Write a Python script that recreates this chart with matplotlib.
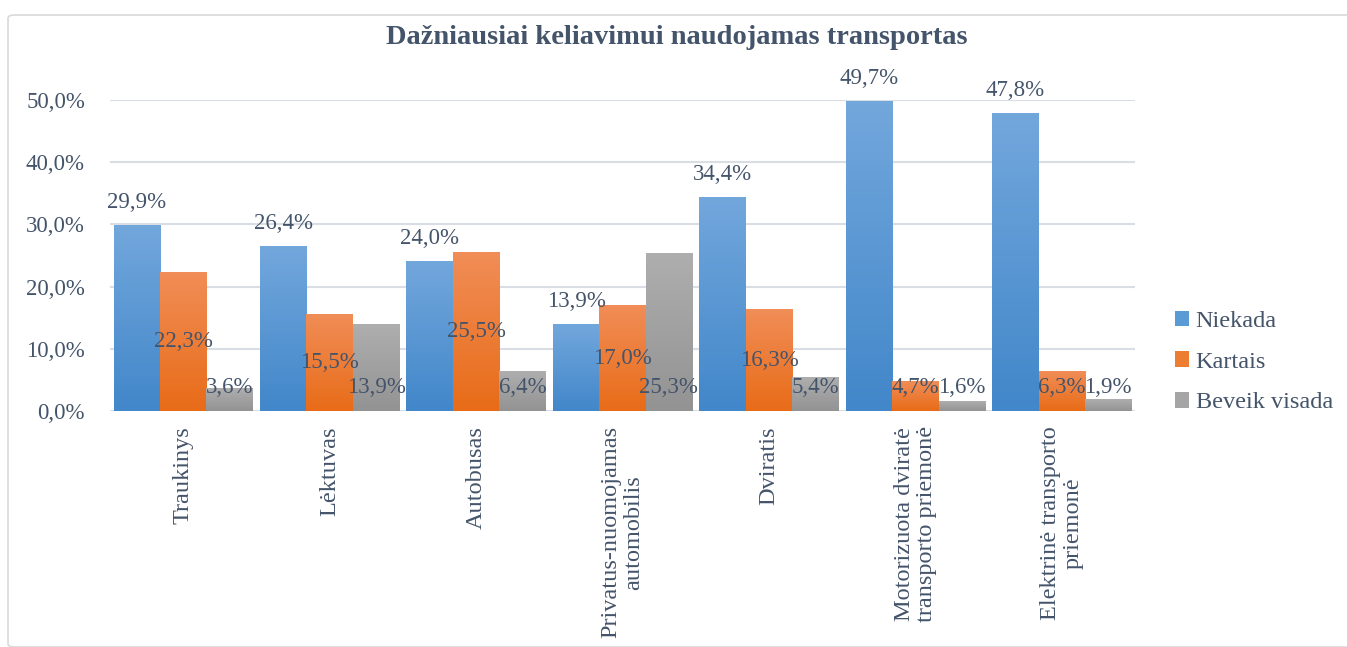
import numpy as np
import matplotlib
matplotlib.use('Agg')
import matplotlib.pyplot as plt
from matplotlib.colors import LinearSegmentedColormap
from matplotlib.patches import FancyBboxPatch

plt.rcParams['font.family'] = ['Liberation Serif', 'DejaVu Serif']

categories = ['Traukinys', 'Lėktuvas', 'Autobusas', 'Privatus-nuomojamas\nautomobilis',
              'Dviratis', 'Motorizuota dviratė\ntransporto priemonė', 'Elektrinė transporto\npriemonė']
niekada = [29.9, 26.4, 24.0, 13.9, 34.4, 49.7, 47.8]
kartais = [22.3, 15.5, 25.5, 17.0, 16.3, 4.7, 6.3]
beveik = [3.6, 13.9, 6.4, 25.3, 5.4, 1.6, 1.9]
series_names = ['Niekada', 'Kartais', 'Beveik visada']
yticks = [0, 10, 20, 30, 40, 50]

txt = '#44546A'
grads = [('#72A7DC', '#4287CA'), ('#F18D57', '#E86C18'), ('#AEAEAE', '#939393')]
solid = ['#5B9BD5', '#ED7D31', '#A5A5A5']

fig = plt.figure(figsize=(13.47, 6.47), dpi=100)
ax = fig.add_axes([110/1347, 1 - 411/647, 1025/1347, 311/647])

x = np.arange(len(categories))
w = 0.317
data = [niekada, kartais, beveik]

for i, (vals, name) in enumerate(zip(data, series_names)):
    bars = ax.bar(x + (i - 1) * w, vals, w, color=solid[i], label=name, zorder=2)
    cmap = LinearSegmentedColormap.from_list('g%d' % i, [grads[i][1], grads[i][0]])
    for b in bars:
        bx, bw, bh = b.get_x(), b.get_width(), b.get_height()
        ax.imshow(np.linspace(0, 1, 100).reshape(-1, 1), extent=[bx, bx + bw, 0, bh],
                  origin='lower', aspect='auto', cmap=cmap, zorder=3)
    for xi, v in zip(x, vals):
        xc = xi + (i - 1) * w
        lab = f'{v:.1f}%'.replace('.', ',')
        if i == 0:
            ax.annotate(lab, (xc, v), xytext=(0, 9), textcoords='offset points',
                        ha='center', va='bottom', fontsize=16.5, color=txt, zorder=5)
        elif i == 1:
            ax.text(xc, max(v / 2, 3.7), lab, ha='center', va='center',
                    fontsize=16.5, color=txt, zorder=5)
        else:
            ax.text(xc, 3.7, lab, ha='center', va='center',
                    fontsize=16.5, color=txt, zorder=5)

ax.set_xlim(-0.5, len(categories) - 0.5)
ax.set_ylim(0, 50)
ax.set_yticks(yticks)
ax.set_yticklabels([f'{t:.1f}%'.replace('.', ',') for t in yticks], fontsize=16.5, color=txt)
ax.set_xticks(x)
ax.set_xticklabels(categories, rotation=90, fontsize=17.5, color=txt, multialignment='center',
                   linespacing=1.1)
ax.tick_params(axis='both', length=0)
ax.tick_params(axis='x', pad=11)
ax.tick_params(axis='y', pad=18)
ax.grid(axis='y', color='#D9DEE4', linewidth=1.5, zorder=0)
ax.set_axisbelow(True)
for s in ax.spines.values():
    s.set_visible(False)

fig.text(677/1347, 1 - 37/647, 'Dažniausiai keliavimui naudojamas transportas',
         ha='center', va='center', fontsize=20.5, fontweight='bold', color=txt)

fig.legend(loc='center left', bbox_to_anchor=(1153/1347, 1 - 362/647), frameon=False,
           fontsize=17.5, labelcolor=txt, handlelength=0.6, handleheight=0.6,
           handletextpad=0.25, labelspacing=0.8)

frame = FancyBboxPatch((8/1347, 0.0), 1.0, 1 - 15/647, boxstyle='round,pad=0,rounding_size=0.005',
                       transform=fig.transFigure, fill=False, edgecolor='#D9D9D9', linewidth=1.2)
fig.patches.append(frame)

fig.savefig('out.png', dpi=100)
